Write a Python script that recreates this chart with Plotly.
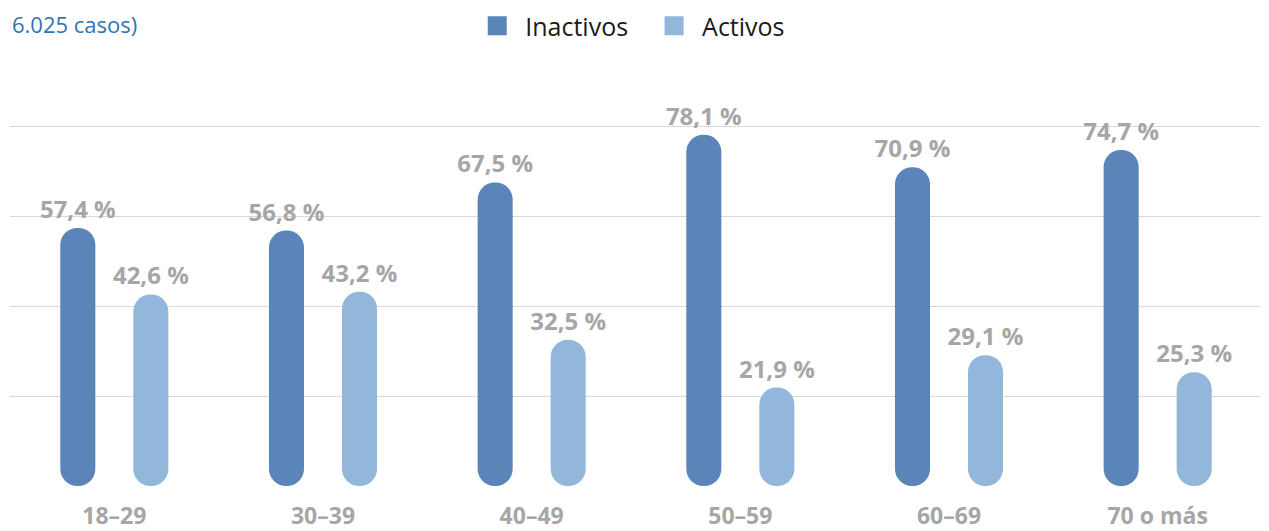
import plotly.graph_objects as go

# --- data ---
age_groups = ["18–29", "30–39", "40–49", "50–59", "60–69", "70 o más"]
inactivos = [57.4, 56.8, 67.5, 78.1, 70.9, 74.7]
activos = [42.6, 43.2, 32.5, 21.9, 29.1, 25.3]

C_INACT = "#5B84B8"
C_ACT = "#93B7DB"
GREY = "#A6A6A6"
FONT = "Open Sans"
BAR_W = 0.168


def pct(v):
    return f"{v:.1f} %".replace(".", ",")


def pill(values, color, center, name):
    # explicit base so both ends of the bar get rounded
    return go.Bar(
        x=age_groups, y=values, base=[0] * len(values), width=BAR_W,
        offset=center - BAR_W / 2,
        marker=dict(color=color, cornerradius="50%", line_width=0),
        text=[pct(v) for v in values], textposition="outside",
        textfont=dict(family=FONT, size=24, color=GREY, weight="bold"),
        constraintext="none", cliponaxis=False, showlegend=False, name=name,
    )


fig = go.Figure()
fig.add_trace(pill(inactivos, C_INACT, -0.175, "Inactivos"))
fig.add_trace(pill(activos, C_ACT, 0.175, "Activos"))

# legend entries with bigger square swatches (nbsp pads the gap between items)
for name, col in [("Inactivos\u00a0\u00a0", C_INACT), ("Activos", C_ACT)]:
    fig.add_trace(go.Scatter(
        x=[None], y=[None], mode="markers", name=name,
        marker=dict(symbol="square", size=16, color=col,
                    line=dict(color=col, width=3)),
    ))

# page body has an 8px margin, offsets below are compensated for it
fig.update_layout(
    width=1269, height=531,
    barmode="overlay",
    plot_bgcolor="white", paper_bgcolor="white",
    margin=dict(l=2, r=15, t=116, b=53),
    font=dict(family=FONT),
    xaxis=dict(
        type="category", range=[-0.5, 5.5], showgrid=False, zeroline=False,
        showline=False, ticks="", ticklabelstandoff=14,
        tickfont=dict(family=FONT, size=23, color=GREY, weight="bold"),
    ),
    yaxis=dict(
        range=[0, 80.5], tickvals=[20, 40, 60, 80], showticklabels=False,
        gridcolor="#D9D9D9", gridwidth=1, zeroline=False, showline=False,
    ),
    legend=dict(
        orientation="h", x=0.495, xanchor="center", y=0.966, yref="container",
        yanchor="middle", font=dict(family=FONT, size=25, color="#1A1A1A"),
        itemwidth=46,
    ),
    showlegend=True,
    annotations=[dict(
        text="6.025 casos)", xref="paper", yref="paper", x=0, y=1,
        xanchor="left", yanchor="middle", yshift=100,
        showarrow=False, font=dict(family=FONT, size=22, color="#2E75B6"),
    )],
)

fig.write_html("out.html")
